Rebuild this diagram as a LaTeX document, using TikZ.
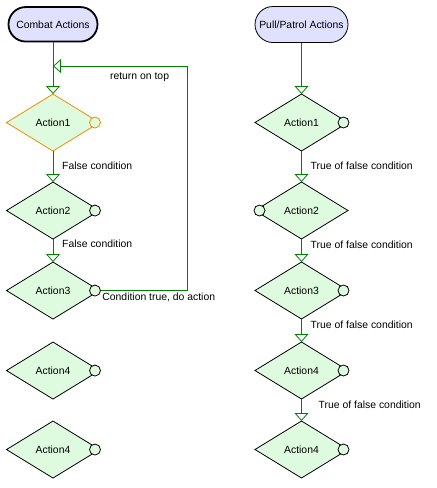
\documentclass[tikz,border=0pt]{standalone}
\usepackage{fontspec}
\setmainfont{Liberation Sans}
\usetikzlibrary{positioning}
\usetikzlibrary{shapes.geometric}
\usetikzlibrary{arrows.meta}
\definecolor{headfill}{RGB}{224,224,255}
\definecolor{actfill}{RGB}{223,251,223}
\definecolor{flowgreen}{RGB}{0,128,0}
\definecolor{activeorange}{RGB}{240,140,0}
\tikzset{
	head/.style={
		rectangle,
		draw=black,
		fill=headfill,
		inner sep=0pt,
		outer sep=0pt
	},
	action/.style={
		diamond,
		draw=black,
		fill=actfill,
		minimum width=93pt,
		minimum height=57pt,
		inner sep=0pt,
		outer sep=0pt
	},
	knob/.style={
		circle,
		draw=black,
		fill=actfill,
		minimum size=11pt,
		inner sep=0pt,
		outer sep=0pt
	},
	flow/.style={
		draw=flowgreen,
		line width=0.8pt,
		-{Triangle[open, width=14pt, length=8pt]}
	},
	cond/.style={right, xshift=5.5pt}
}

\begin{document}
\begin{tikzpicture}[x=1pt, y=-1pt, font=\fontsize{10.4}{12}\selectfont, line width=0.8pt]
			\useasboundingbox (0,0) rectangle (437,488);
			% combat column
			\draw node[head, line width=1.8pt, minimum width=89pt, minimum height=34.5pt, rounded corners=17.25pt] (Combat) at (53,24.3) {Combat Actions};
			\draw node[action, draw=activeorange, below=52.5pt of Combat](CombatOne){Action1};
			\draw node[action, below=31pt of CombatOne](CombatTwo){Action2};
			\draw node[action, below=23pt of CombatTwo](CombatThree){Action3};
			\draw node[action, below=23pt of CombatThree](CombatFour){Action4};
			\draw node[action, below=22pt of CombatFour](CombatFive){Action4};
			
			\node[knob, draw=activeorange] (CombatOneKnob) at ([xshift=-4.5pt]CombatOne.east) {};
			\node[knob] (CombatTwoKnob) at ([xshift=-4.5pt]CombatTwo.east) {};
			\node[knob] (CombatThreeKnob) at ([xshift=-4.5pt]CombatThree.east) {};
			\node[knob] (CombatFourKnob) at ([xshift=-4.5pt]CombatFour.east) {};
			\node[knob] (CombatFiveKnob) at ([xshift=-4.5pt]CombatFive.east) {};
			
			\draw [flow] (Combat) -- (CombatOne);
			\draw [flow] (CombatOne) -- node[pos=.48, cond]{False condition} (CombatTwo);
			\draw [flow] (CombatTwo) -- node[pos=.22, cond]{False condition} (CombatThree);
			
			% return loop
			\coordinate[below=24.5pt of Combat] (ReturnTop);
			\coordinate[right=134pt of ReturnTop] (ReturnCorner);
			\draw [flow] (CombatThreeKnob.east) node[below right, inner sep=1.5pt, yshift=-1pt]{Condition true, do action} -| (ReturnCorner) -- node[pos=.354, below, yshift=-2.5pt]{return on top} (ReturnTop);
			
			% pull/patrol column
			\draw node[head, minimum width=93pt, minimum height=36pt, rounded corners=18pt] (Patrol) at (301.5,24.5) {Pull/Patrol Actions};
			\draw node[action, below=51.5pt of Patrol](PatrolOne){Action1};
			\draw node[action, below=31pt of PatrolOne](PatrolTwo){Action2};
			\draw node[action, below=23pt of PatrolTwo](PatrolThree){Action3};
			\draw node[action, below=23pt of PatrolThree](PatrolFour){Action4};
			\draw node[action, below=22pt of PatrolFour](PatrolFive){Action4};
			
			\node[knob] (PatrolOneKnob) at ([xshift=-4.5pt]PatrolOne.east) {};
			\node[knob] (PatrolTwoKnob) at ([xshift=4.5pt]PatrolTwo.west) {};
			\node[knob] (PatrolThreeKnob) at ([xshift=-4.5pt]PatrolThree.east) {};
			\node[knob] (PatrolFourKnob) at ([xshift=-4.5pt]PatrolFour.east) {};
			\node[knob] (PatrolFiveKnob) at ([xshift=-4.5pt]PatrolFive.east) {};
			
			\draw [flow] (Patrol) -- (PatrolOne);
			\draw [flow] (PatrolOne) -- node[pos=.48, cond]{True of false condition} (PatrolTwo);
			\draw [flow] (PatrolTwo) -- node[pos=.26, cond]{True of false condition} (PatrolThree);
			\draw [flow] (PatrolThree) -- node[pos=.26, cond]{True of false condition} (PatrolFour);
			\draw [flow] (PatrolFour) -- node[pos=.26, cond, xshift=8pt]{True of false condition} (PatrolFive);
		\end{tikzpicture}
\end{document}
